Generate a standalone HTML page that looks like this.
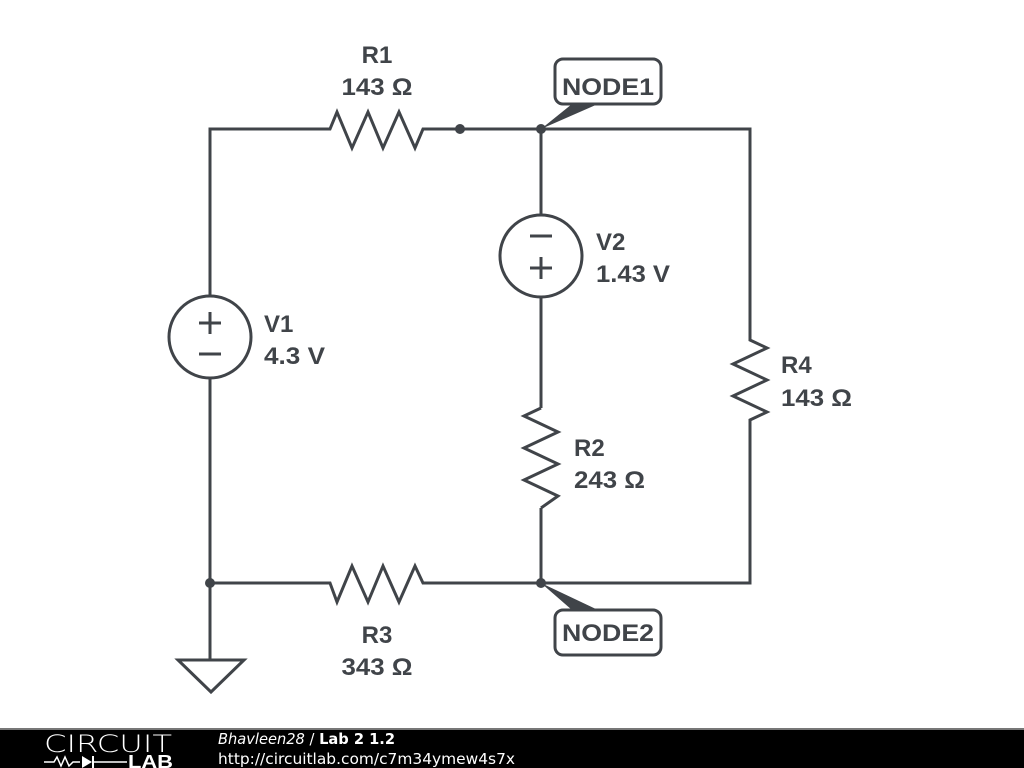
<!DOCTYPE html>
<html><head><style>
body{margin:0;width:1024px;height:768px;background:#fff;overflow:hidden;position:relative;font-family:"Liberation Sans",sans-serif}
</style></head><body>
<svg width="1024" height="768" style="position:absolute;left:0;top:0">
<g stroke="#404449" stroke-width="3" fill="none" stroke-linejoin="miter">
<polyline points="210,296 210,129 330,129 337,112 352,148 368,112 383,148 399,112 415,148 423,129 750,129 750,332"/>
<line x1="541" y1="129" x2="541" y2="215"/>
<circle cx="541" cy="256" r="41"/>
<line x1="541" y1="297" x2="541" y2="408"/>
<polyline points="541,408 524,416 558,432 524,448 558,464 524,480 558,496 541,508"/>
<line x1="541" y1="508" x2="541" y2="583"/>
<polyline points="750,332 750,340 767,348 733,364 767,380 733,396 767,412 750,420 750,583 423,583 415,566 399,602 383,566 368,602 352,566 337,602 330,583 210,583"/>
<circle cx="210" cy="337" r="41"/>
<line x1="210" y1="378" x2="210" y2="660"/>
<polygon points="178,660 244,660 211,692"/>
<line x1="199" y1="323" x2="221" y2="323"/><line x1="210" y1="312" x2="210" y2="334"/>
<line x1="199" y1="354" x2="221" y2="354"/>
<line x1="530" y1="236" x2="552" y2="236"/>
<line x1="530" y1="268" x2="552" y2="268"/><line x1="541" y1="257" x2="541" y2="279"/>
<rect x="555" y="59" width="106" height="45" rx="8"/>
<rect x="555" y="610" width="106" height="45" rx="8"/>
</g>
<g fill="#404449">
<circle cx="460" cy="129" r="5"/><circle cx="541" cy="129" r="5"/>
<circle cx="541" cy="583" r="5"/><circle cx="210" cy="583" r="5"/>
<polygon points="541,129 572,104 598,104"/>
<polygon points="541,583 572,610 598,610"/>
</g>
<g fill="#404449" font-family="Liberation Sans,sans-serif" font-weight="bold" font-size="24">
<text x="377" y="63" text-anchor="middle">R1</text>
<text x="377" y="95" text-anchor="middle" textLength="71" lengthAdjust="spacingAndGlyphs">143 Ω</text>
<text x="608" y="95" text-anchor="middle" textLength="92" lengthAdjust="spacingAndGlyphs">NODE1</text>
<text x="608" y="641" text-anchor="middle" textLength="92" lengthAdjust="spacingAndGlyphs">NODE2</text>
<text x="596" y="250">V2</text><text x="596" y="282" textLength="74" lengthAdjust="spacingAndGlyphs">1.43 V</text>
<text x="264" y="332">V1</text><text x="264" y="364" textLength="61" lengthAdjust="spacingAndGlyphs">4.3 V</text>
<text x="781" y="373">R4</text><text x="781" y="406" textLength="71" lengthAdjust="spacingAndGlyphs">143 Ω</text>
<text x="574" y="456">R2</text><text x="574" y="488" textLength="71" lengthAdjust="spacingAndGlyphs">243 Ω</text>
<text x="377" y="643" text-anchor="middle">R3</text>
<text x="377" y="675" text-anchor="middle" textLength="71" lengthAdjust="spacingAndGlyphs">343 Ω</text>
</g>
<rect x="0" y="728" width="1024" height="40" fill="#000"/>
<rect x="0" y="728" width="1024" height="2" fill="#777"/>
<text x="44" y="752" fill="#fff" font-size="24" font-family="DejaVu Sans,sans-serif" font-weight="200" textLength="128" lengthAdjust="spacingAndGlyphs">CIRCUIT</text>
<polyline points="44,762 54,762 57,757 61,766 65,757 69,766 73,762 80,762" stroke="#fff" stroke-width="1.5" fill="none"/>
<polygon points="82,756 82,768 92,762" fill="#fff"/><line x1="93" y1="756" x2="93" y2="768" stroke="#fff" stroke-width="2"/><line x1="93" y1="762" x2="127" y2="762" stroke="#fff" stroke-width="1.5"/>
<text x="128" y="768" fill="#fff" font-size="18" font-weight="bold" font-family="Liberation Sans,sans-serif" textLength="45" lengthAdjust="spacingAndGlyphs">LAB</text>
<text x="218" y="744" fill="#fff" font-size="15" font-family="DejaVu Sans,sans-serif" textLength="177" lengthAdjust="spacingAndGlyphs"><tspan font-style="italic">Bhavleen28</tspan> / <tspan font-weight="bold">Lab 2 1.2</tspan></text>
<text x="218" y="764" fill="#fff" font-size="15" font-family="DejaVu Sans,sans-serif" textLength="297" lengthAdjust="spacingAndGlyphs">http://circuitlab.com/c7m34ymew4s7x</text>
</svg>
</body></html>
